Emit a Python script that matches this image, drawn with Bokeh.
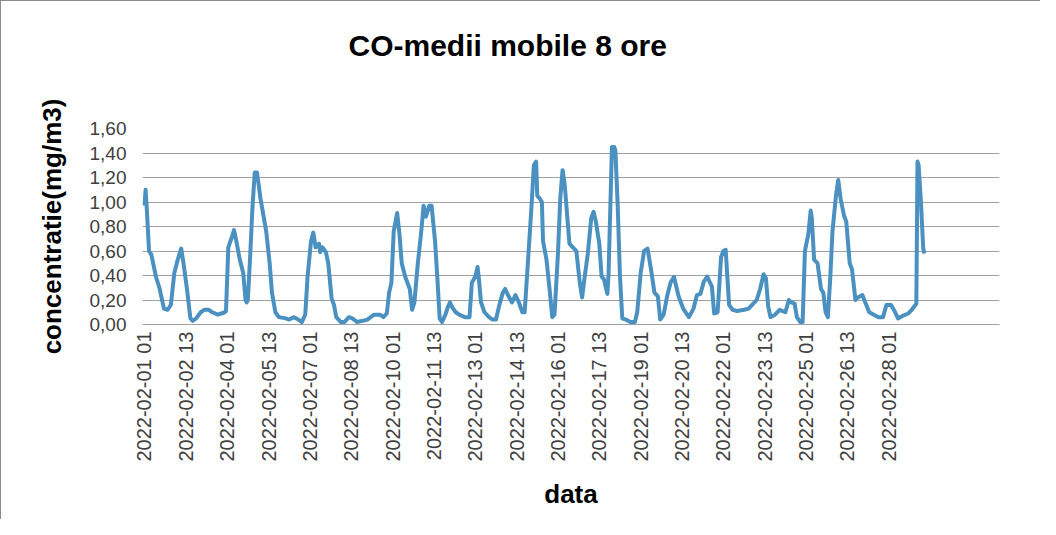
import math
from bokeh.plotting import figure
from bokeh.models import Range1d, FixedTicker, CustomJSTickFormatter, ColumnDataSource, LinearAxis
from bokeh.embed import file_html
from bokeh.resources import INLINE

# ---- data (hour index from 2022-02-01 01, CO 8h moving average mg/m3) ----
hours = [0, 1, 2, 4, 6, 10, 13, 17, 20, 23, 26, 29, 32, 34, 37, 40, 42, 45, 49, 52,
         56, 59, 64, 70, 71, 73, 76, 78, 80, 83, 86, 88, 89, 90, 92, 94, 96, 98, 101, 106,
         109, 111, 114, 117, 123, 126, 130, 134, 137, 140, 142, 145, 147, 149, 152, 153, 155, 158, 160, 163,
         165, 167, 171, 174, 178, 181, 185, 190, 194, 200, 205, 208, 211, 213, 215, 217, 220, 222, 224, 227,
         231, 233, 235, 238, 241, 243, 245, 248, 250, 253, 255, 257, 259, 262, 264, 266, 268, 271, 274, 279,
         283, 285, 288, 290, 291, 293, 296, 300, 303, 306, 309, 312, 314, 317, 320, 323, 326, 329, 331, 334,
         337, 339, 341, 342, 344, 346, 347, 350, 353, 355, 357, 360, 362, 364, 366, 368, 370, 373, 376, 379,
         381, 383, 386, 389, 391, 393, 396, 398, 400, 403, 404, 406, 407, 409, 410, 412, 414, 416, 419, 423,
         427, 429, 432, 435, 438, 441, 444, 447, 449, 452, 455, 458, 461, 465, 469, 474, 478, 481, 484, 487,
         490, 494, 496, 499, 502, 504, 506, 509, 512, 516, 522, 526, 529, 533, 536, 539, 541, 543, 545, 549,
         553, 558, 561, 563, 566, 568, 571, 573, 575, 578, 580, 581, 583, 586, 589, 591, 593, 595, 597, 599,
         602, 604, 606, 609, 611, 614, 616, 619, 621, 625, 628, 631, 635, 639, 643, 646, 650, 653, 656, 660,
         665, 668, 672, 673, 674, 676, 678, 679]
co = [0.97, 1.10, 0.95, 0.60, 0.57, 0.39, 0.30, 0.13, 0.12, 0.16, 0.42, 0.53, 0.62, 0.50, 0.29, 0.05, 0.03, 0.05, 0.10, 0.12,
      0.12, 0.10, 0.08, 0.10, 0.11, 0.63, 0.71, 0.77, 0.68, 0.53, 0.42, 0.20, 0.18, 0.20, 0.55, 0.95, 1.24, 1.24, 1.03, 0.76,
      0.50, 0.26, 0.10, 0.06, 0.05, 0.04, 0.06, 0.04, 0.02, 0.08, 0.39, 0.68, 0.75, 0.63, 0.66, 0.59, 0.63, 0.59, 0.50, 0.21,
      0.16, 0.06, 0.02, 0.02, 0.06, 0.05, 0.02, 0.03, 0.04, 0.08, 0.08, 0.06, 0.09, 0.26, 0.34, 0.76, 0.91, 0.74, 0.50, 0.39,
      0.29, 0.12, 0.18, 0.50, 0.76, 0.97, 0.88, 0.97, 0.97, 0.68, 0.38, 0.05, 0.02, 0.08, 0.14, 0.18, 0.14, 0.10, 0.08, 0.06,
      0.06, 0.34, 0.39, 0.47, 0.39, 0.18, 0.10, 0.06, 0.04, 0.04, 0.16, 0.26, 0.29, 0.23, 0.18, 0.24, 0.18, 0.10, 0.10, 0.53,
      0.97, 1.30, 1.33, 1.05, 1.03, 1.00, 0.68, 0.53, 0.26, 0.06, 0.08, 0.58, 1.03, 1.26, 1.13, 0.89, 0.66, 0.63, 0.60, 0.34,
      0.22, 0.37, 0.58, 0.87, 0.92, 0.84, 0.66, 0.39, 0.37, 0.25, 0.40, 1.10, 1.45, 1.45, 1.42, 0.97, 0.39, 0.05, 0.04, 0.02,
      0.02, 0.10, 0.42, 0.60, 0.62, 0.45, 0.26, 0.23, 0.04, 0.08, 0.23, 0.34, 0.39, 0.23, 0.13, 0.06, 0.13, 0.24, 0.25, 0.35,
      0.39, 0.31, 0.09, 0.10, 0.55, 0.60, 0.61, 0.16, 0.12, 0.11, 0.12, 0.13, 0.16, 0.20, 0.29, 0.41, 0.38, 0.15, 0.06, 0.08,
      0.12, 0.10, 0.20, 0.18, 0.17, 0.06, 0.02, 0.02, 0.60, 0.74, 0.93, 0.87, 0.53, 0.50, 0.29, 0.26, 0.10, 0.06, 0.37, 0.76,
      1.05, 1.18, 1.03, 0.89, 0.84, 0.50, 0.45, 0.20, 0.22, 0.24, 0.17, 0.10, 0.08, 0.06, 0.06, 0.16, 0.16, 0.11, 0.05, 0.07,
      0.09, 0.12, 0.17, 1.33, 1.30, 1.00, 0.62, 0.58]

x_tick_labels = ["2022-02-01 01", "2022-02-02 13", "2022-02-04 01", "2022-02-05 13",
                 "2022-02-07 01", "2022-02-08 13", "2022-02-10 01", "2022-02-11 13",
                 "2022-02-13 01", "2022-02-14 13", "2022-02-16 01", "2022-02-17 13",
                 "2022-02-19 01", "2022-02-20 13", "2022-02-22 01", "2022-02-23 13",
                 "2022-02-25 01", "2022-02-26 13", "2022-02-28 01"]
label_step = 36  # hours between category labels
y_ticks = [0.0, 0.2, 0.4, 0.6, 0.8, 1.0, 1.2, 1.4, 1.6]
title_text = "CO-medii mobile 8 ore"

x_tick_pos = [i * label_step for i in range(len(x_tick_labels))]

src = ColumnDataSource(data=dict(h=hours, v=co))

p = figure(width=1040, height=519, output_backend="svg", toolbar_location=None,
           x_range=Range1d(-1.7, 744.4), y_range=Range1d(0, 1.6),
           min_border_left=141, min_border_right=42, min_border_top=127, min_border_bottom=196,
           title=title_text)
p.styles = {"border-top": "1px solid #8c8c8c", "border-left": "1px solid #8c8c8c"}

p.title.text_font = "Liberation Sans"
p.title.text_font_size = "30px"
p.title.text_font_style = "bold"
p.title.text_color = "#000000"
p.title.align = "left"
p.title.offset = 206

p.outline_line_color = None
p.background_fill_color = "white"
p.border_fill_color = "white"

p.line("h", "v", source=src, line_color="#4A91C1", line_width=4, line_join="round")

# grid
p.xgrid.grid_line_color = None
p.ygrid.grid_line_color = "#A0A0A0"
p.ygrid.grid_line_width = 1.2
p.yaxis.ticker = FixedTicker(ticks=y_ticks)
p.ygrid.ticker = FixedTicker(ticks=y_ticks)

# y axis
yax = p.left[0]
yax.formatter = CustomJSTickFormatter(code="return tick.toFixed(2).replace('.', ',');")
yax.axis_line_color = None
yax.major_tick_line_color = None
yax.major_tick_out = 0
yax.major_tick_in = 0
yax.minor_tick_line_color = None
yax.minor_tick_out = 0
yax.major_label_text_font = "Liberation Sans"
yax.major_label_text_font_size = "19px"
yax.major_label_text_color = "#404040"
yax.major_label_standoff = 16
yax.axis_label = "concentratie(mg/m3)"
yax.axis_label_text_font = "Liberation Sans"
yax.axis_label_text_font_size = "26px"
yax.axis_label_text_font_style = "bold"
yax.axis_label_text_color = "#000000"
yax.axis_label_standoff = 20

# x axis (bottom, the only real one)
xax = p.below[0]
xax.ticker = FixedTicker(ticks=x_tick_pos)
xax.major_label_overrides = {pos: lab for pos, lab in zip(x_tick_pos, x_tick_labels)}
xax.major_label_orientation = math.pi / 2
xax.axis_line_color = "#A0A0A0"
xax.axis_line_width = 1.2
xax.major_tick_line_color = None
xax.major_tick_out = 0
xax.major_tick_in = 0
xax.minor_tick_line_color = None
xax.minor_tick_out = 0
xax.major_label_text_font = "Liberation Sans"
xax.major_label_text_font_size = "20px"
xax.major_label_text_color = "#404040"
xax.major_label_standoff = 7
xax.axis_label = "data"
xax.axis_label_text_font = "Liberation Sans"
xax.axis_label_text_font_size = "26px"
xax.axis_label_text_font_style = "bold"
xax.axis_label_text_color = "#000000"
xax.axis_label_standoff = 14

# blank spacer band between the title and the plot frame:
# one invisible tick whose outward length reserves the space, with an empty label
spacer = LinearAxis(ticker=FixedTicker(ticks=[x_tick_pos[0]]),
                    major_label_overrides={x_tick_pos[0]: ""},
                    major_label_text_font_size="0px", major_label_standoff=0,
                    axis_line_color=None, major_tick_line_color=None,
                    minor_tick_line_color=None,
                    major_tick_out=62, major_tick_in=0, minor_tick_out=0)
p.add_layout(spacer, "above")

open("out.html", "w").write(file_html(p, INLINE))
